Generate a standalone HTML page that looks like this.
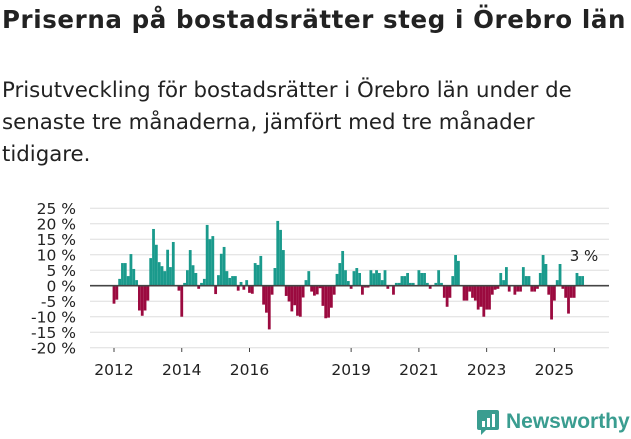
<!DOCTYPE html>
<html><head><meta charset="utf-8"><style>
body{margin:0;background:#fff;width:631px;height:439px;overflow:hidden;font-family:"DejaVu Sans","Liberation Sans",sans-serif;color:#222}
#title{position:absolute;left:2px;top:5px;font-size:24.5px;font-weight:bold;margin:0;white-space:nowrap;letter-spacing:0.6px}
#sub{position:absolute;left:2px;top:75px;font-size:21.3px;line-height:32px;width:629px;margin:0;white-space:nowrap}
svg{position:absolute;left:0;top:0}
</style></head><body>
<h1 id="title">Priserna på bostadsrätter steg i Örebro län</h1>
<p id="sub">Prisutveckling för bostadsrätter i Örebro län under de<br>senaste tre månaderna, jämfört med tre månader<br>tidigare.</p>
<svg id="chart" width="631" height="439"></svg>
<script>
const values=[-5.8,-4.5,2.2,7.3,7.3,3.1,10.2,5.4,1.8,-8,-9.7,-8,-4.8,8.9,18.3,13.2,7.6,6.3,4.7,11.6,6,14.1,0,-1.6,-10,0.9,5,11.5,6.6,4.1,-1,0.9,2.2,19.6,15,16,-2.7,3.4,10.3,12.5,4.7,2.5,3.1,3.1,-1.6,1.2,-1.3,1.8,-2.3,-2.6,7.3,6.7,9.6,-6.1,
-8.7,-14.1,-2.9,5.7,20.9,18,11.5,-3.3,-5.1,-8.3,-6.3,-9.7,-10,-3.8,1.8,4.7,-1.9,-3.2,-2.8,-0.8,-6.5,-10.5,-10.3,-7.1,-2.9,3.8,7.3,11.2,5,1.5,-1,4.7,5.7,4.1,-2.9,-0.6,-0.6,5,4,5,4.1,1.8,5,-1,0,-2.9,0.9,0.9,3.1,3.1,4.1,0.9,0.9,0,5,4.1,4.1,0.9,-1,
0,0.9,5,0.9,-3.9,-6.8,-3.9,3.1,9.9,8,0,-4.8,-4.8,-1.9,-3.9,-4.8,-7.7,-6.8,-10,-7.7,-7.7,-2.9,-1.3,-1,4.1,1.8,6,-1.9,0,-2.9,-1.9,-1.9,6,3.1,3.1,-1.9,-1.9,-1,4.1,9.9,7,-2.9,-10.9,-4.8,1.8,7,-1,-3.9,-9,-3.9,-3.9,4.1,3.1,3.1];
const yTicks=[25,20,15,10,5,0,-5,-10,-15,-20];
const xYears=[2012,2014,2016,2019,2021,2023,2025];
const lastLabel="3 %";
const NS="http://www.w3.org/2000/svg";
const svg=document.getElementById('chart');
const y=v=>285.7-v*3.1;
const xm=i=>114+i*2.823;
const xy=yr=>xm((yr-2012)*12);
function mk(t,a){const e=document.createElementNS(NS,t);for(const k in a)e.setAttribute(k,a[k]);svg.appendChild(e);return e;}
yTicks.forEach(t=>{
  const g=mk('line',{x1:90,x2:609,y1:y(t),y2:y(t),stroke:'#ddd','stroke-width':1});
  
  
  const l=mk('text',{x:76,y:y(t)+6,'text-anchor':'end','font-size':15.5,fill:'#222'});
  l.textContent=t+' %';
  
  
});
values.forEach((v,i)=>{
  const b=mk('rect',{x:xm(i)-1.4,y:Math.min(y(v),y(0)),width:2.8,height:Math.abs(y(v)-y(0)),fill:v>=0?'#1a9a8c':'#9b0a3f'});
  
  
});
const z=mk('line',{x1:90,x2:609,y1:y(0),y2:y(0),stroke:'#444','stroke-width':1.6});


xYears.forEach(yr=>{
  const t=mk('line',{x1:xy(yr),x2:xy(yr),y1:348,y2:352,stroke:'#444'});
  
  
  const l=mk('text',{x:xy(yr),y:375,'text-anchor':'middle','font-size':15.5,fill:'#222'});
  l.textContent=yr;
  
  
});
const ll=mk('text',{x:584,y:261,'text-anchor':'middle','font-size':15,fill:'#222'});
ll.textContent=lastLabel;


</script>
<div style="position:absolute;left:476px;top:408px;height:28px;display:flex;align-items:center">
<svg width="24" height="28" viewBox="0 0 24 28" style="position:static"><path d="M3 2h18a2 2 0 0 1 2 2v16a2 2 0 0 1-2 2H10l-5 5v-5H3a2 2 0 0 1-2-2V4a2 2 0 0 1 2-2z" fill="#3a9d90"/><rect x="6" y="13" width="3" height="6" fill="#fff"/><rect x="11" y="10" width="3" height="9" fill="#fff"/><rect x="16" y="6" width="3" height="13" fill="#fff"/></svg>
<span style="font-size:21px;font-weight:bold;color:#3a9d90;margin-left:6px;font-family:'Liberation Sans',sans-serif">Newsworthy</span></div>
</body></html>
